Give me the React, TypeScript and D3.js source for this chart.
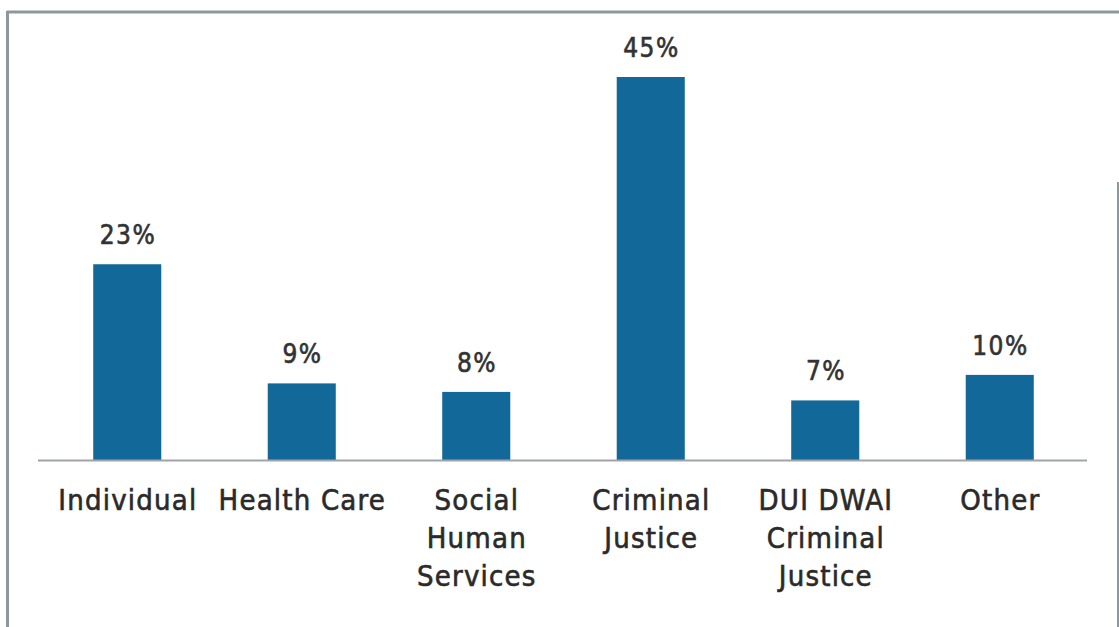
import React from "react";
import * as d3 from "d3";

const categories: string[][] = [
  ["Individual"],
  ["Health Care"],
  ["Social", "Human", "Services"],
  ["Criminal", "Justice"],
  ["DUI DWAI", "Criminal", "Justice"],
  ["Other"],
];
const values: number[] = [23, 9, 8, 45, 7, 10];
const valueLabels: string[] = ["23%", "9%", "8%", "45%", "7%", "10%"];

const W = 1119;
const H = 627;
const baseline = 460;
const barColor = "#126898";
const font = "'DejaVu Sans Condensed', 'DejaVu Sans', sans-serif";

export default function App() {
  const ids = categories.map((_, i) => String(i));
  const x = d3.scaleBand<string>().domain(ids).range([40, 1087]).paddingInner(0.61).paddingOuter(0.305);
  const y = d3.scaleLinear().domain([0, 45]).range([baseline, 77]);
  return (
    <svg width={W} height={H} style={{ position: "absolute", left: 0, top: 0, background: "#fff" }}>
      <rect x={0} y={0} width={W} height={H} fill="#fff" />
      <line x1={7} y1={12} x2={W} y2={12} stroke="#8e979c" strokeWidth={3} />
      <line x1={7.5} y1={11} x2={7.5} y2={H} stroke="#8e979c" strokeWidth={3} />
      <line x1={1118} y1={182} x2={1118} y2={H} stroke="#8e979c" strokeWidth={2} />
      {values.map((v, i) => (
        <rect key={i} x={x(ids[i])} y={y(v)} width={x.bandwidth()} height={baseline - y(v)} fill={barColor} />
      ))}
      <line x1={38} y1={baseline + 0.5} x2={1087} y2={baseline + 0.5} stroke="#a0a4a8" strokeWidth={2} />
      {values.map((v, i) => (
        <text key={i} x={(x(ids[i]) as number) + x.bandwidth() / 2 + 0.8} y={y(v) - 20} textAnchor="middle"
          fontFamily={font} fontSize={26} letterSpacing={1.6} fill="#333" stroke="#333" strokeWidth={0.6}>{valueLabels[i]}</text>
      ))}
      {categories.map((lines, i) => (
        <text key={i} textAnchor="middle" fontFamily={font} fontSize={29} letterSpacing={1.2} fill="#2a2a2a" stroke="#2a2a2a" strokeWidth={0.6}>
          {lines.map((l, j) => (
            <tspan key={j} x={(x(ids[i]) as number) + x.bandwidth() / 2 + 0.6} y={510 + j * 38}>{l}</tspan>
          ))}
        </text>
      ))}
    </svg>
  );
}
